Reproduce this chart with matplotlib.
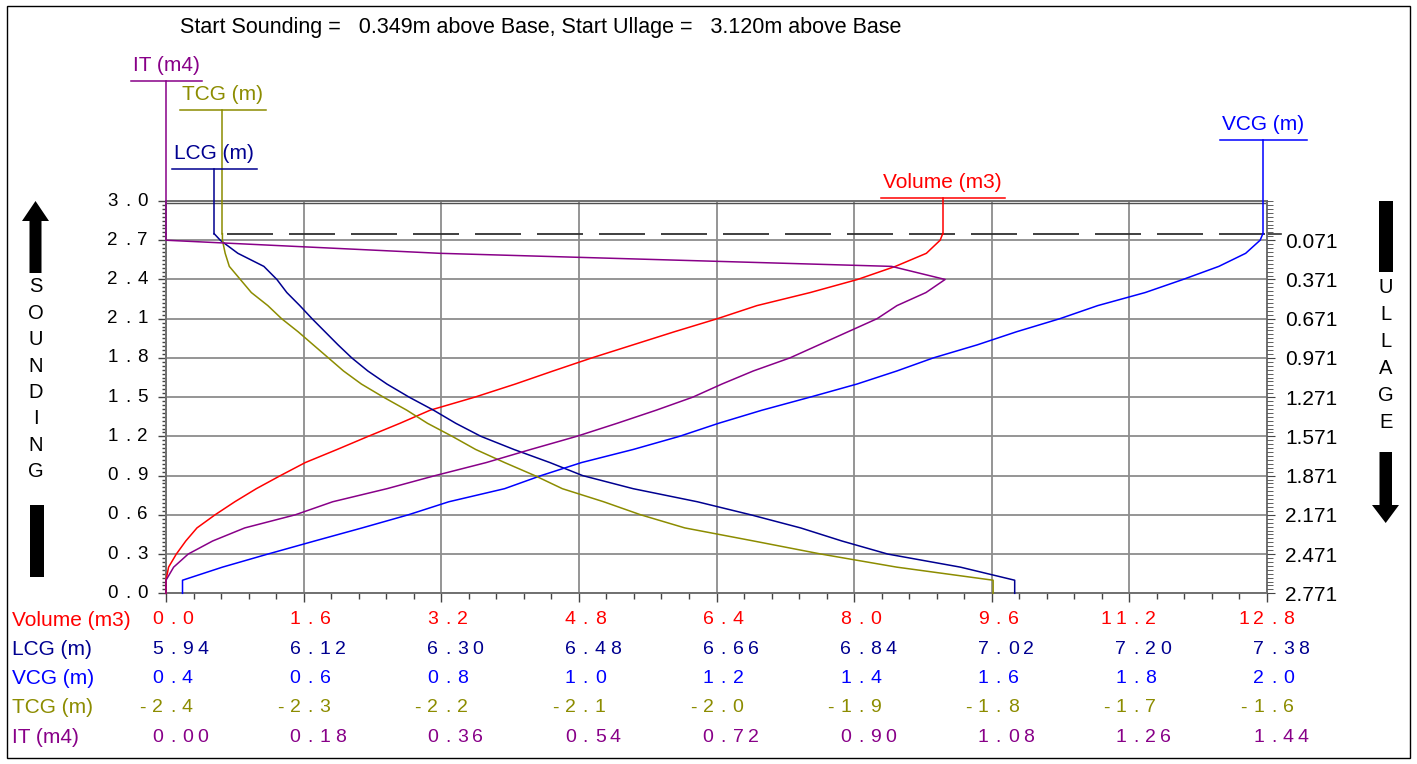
import matplotlib
matplotlib.use("Agg")
import matplotlib.pyplot as plt
import matplotlib.transforms as mtransforms
from matplotlib.patches import Rectangle, Polygon
from matplotlib.lines import Line2D
import numpy as np

# ---- tank calibration table -------------------------------------------------
sounding = [0.0, 0.1, 0.2, 0.3, 0.4, 0.5, 0.6, 0.7, 0.8, 0.9, 1.0, 1.1, 1.2, 1.3,
            1.4, 1.5, 1.6, 1.7, 1.8, 1.9, 2.0, 2.1, 2.2, 2.3, 2.4, 2.5, 2.6, 2.7, 2.75]
volume = [0.00, 0.00, 0.03, 0.12, 0.23, 0.36, 0.57, 0.80, 1.05, 1.33, 1.62, 1.99,
          2.35, 2.72, 3.07, 3.59, 4.06, 4.50, 4.95, 5.43, 5.91, 6.41, 6.87, 7.49,
          8.04, 8.48, 8.84, 9.00, 9.03]
lcg = [7.050, 7.050, 6.979, 6.884, 6.824, 6.770, 6.705, 6.635, 6.551, 6.485, 6.442,
       6.395, 6.352, 6.319, 6.290, 6.258, 6.229, 6.204, 6.183, 6.165, 6.148, 6.131,
       6.115, 6.098, 6.085, 6.068, 6.034, 6.011, 6.003]
vcg = [0.424, 0.424, 0.482, 0.548, 0.616, 0.685, 0.752, 0.811, 0.892, 0.945, 1.004,
       1.079, 1.146, 1.203, 1.266, 1.336, 1.404, 1.462, 1.515, 1.579, 1.636, 1.699,
       1.754, 1.823, 1.878, 1.930, 1.969, 1.990, 1.994]
tcg = [-1.799, -1.799, -1.869, -1.924, -1.973, -2.023, -2.055, -2.082, -2.112, -2.132,
       -2.154, -2.175, -2.192, -2.210, -2.225, -2.242, -2.258, -2.271, -2.282, -2.293,
       -2.304, -2.316, -2.326, -2.338, -2.346, -2.354, -2.357, -2.359, -2.359]
inertia = [0.000, 0.000, 0.010, 0.029, 0.061, 0.103, 0.169, 0.218, 0.289, 0.352, 0.419,
           0.477, 0.537, 0.590, 0.641, 0.689, 0.727, 0.768, 0.816, 0.854, 0.892, 0.930,
           0.956, 0.994, 1.019, 0.949, 0.358, 0.000, 0.000]

# bottom scales: (min, max) spread over 8 divisions, decimals shown
volume_scale = (0.0, 12.8, 1)
lcg_scale = (5.94, 7.38, 2)
vcg_scale = (0.4, 2.0, 1)
tcg_scale = (-2.4, -1.6, 1)
inertia_scale = (0.0, 1.44, 2)

series_names = ["Volume (m3)", "LCG (m)", "VCG (m)", "TCG (m)", "IT (m4)"]
series_colors = ["#ff0000", "#000090", "#0000ff", "#8c8c00", "#880088"]

start_sounding = 0.349
start_ullage = 3.120
fill_level = 2.75
sounding_max = 3.0
sounding_step = 0.3

# ---- layout (pixels) -------------------------------------------------------
W, H, DPI = 1417, 764, 100
X0, X1 = 166, 1267
Y_TOP, Y_BOT = 201.0, 593.3
PX_PER_M = (Y_BOT - Y_TOP) / sounding_max
CELL = 15.0
PT = 72.0 / DPI

plt.rcParams['font.family'] = ['Liberation Sans', 'DejaVu Sans']
plt.rcParams['lines.scale_dashes'] = False

fig = plt.figure(figsize=(W / DPI, H / DPI), dpi=DPI)
fig.patch.set_facecolor('white')


def fx(px):
    return px / W


def fy(py):
    return 1 - py / H


ax = fig.add_axes([fx(X0), fy(Y_BOT), (X1 - X0) / W, (Y_BOT - Y_TOP) / H])
ax.set_xlim(0, 1)
ax.set_ylim(0, sounding_max)

ytick_major = np.round(np.arange(0, sounding_max + 1e-9, sounding_step), 3)
ytick_minor = np.round(np.arange(0, sounding_max + 1e-9, sounding_step / 10), 3)
ax.set_yticks(ytick_major)
ax.set_yticks(ytick_minor, minor=True)
ax.set_xticks(np.linspace(0, 1, 9))
ax.set_xticks(np.linspace(0, 1, 41), minor=True)
ax.tick_params(axis='both', which='both', labelleft=False, labelbottom=False,
               direction='out', color='#444444', width=1.0)
ax.tick_params(axis='y', which='major', length=8 * PT)
ax.tick_params(axis='y', which='minor', length=4 * PT)
ax.tick_params(axis='x', which='major', length=9 * PT)
ax.tick_params(axis='x', which='minor', length=6 * PT)
ax.grid(True, which='major', color='#8c8c8c', lw=1.3)
for sp in ax.spines.values():
    sp.set_color('#707070')
    sp.set_linewidth(1.4)
ax.axhline(sounding_max - 0.015, color='#505050', lw=1.0)

# filling limit
ax.axhline(fill_level, xmin=0.055, xmax=1.0, color='#303030', lw=1.3,
           dashes=(46 * PT, 16 * PT))
ax.plot([1, 1 + 14 / (X1 - X0)], [fill_level, fill_level], color='#303030', lw=1.2,
        transform=mtransforms.blended_transform_factory(ax.transAxes, ax.transData),
        clip_on=False)

# left sounding labels, letter-spaced
ytrans = mtransforms.blended_transform_factory(fig.transFigure, ax.transData)
for s in ytick_major:
    lab = f"{s:.1f}"
    n = len(lab)
    for j, ch in enumerate(lab):
        cx = 150 - CELL * (n - 1 - j) - CELL / 2
        fig.text(fx(cx), s, ch, transform=ytrans, ha='center', va='center',
                 fontsize=13.5, color='black')

# right ullage axis
ullage_top = start_ullage - start_sounding
axr = ax.twinx()
axr.set_ylim(ullage_top, ullage_top - sounding_max)
ull_major = [ullage_top - s for s in ytick_major if s < sounding_max - 1e-9]
ull_minor = [ullage_top - s for s in ytick_minor]
axr.set_yticks(ull_major)
axr.set_yticklabels([f"{u:.3f}" for u in ull_major])
axr.set_yticks(ull_minor, minor=True)
axr.tick_params(axis='y', which='major', length=8 * PT, pad=10 * PT, labelsize=15,
                direction='out', color='#444444')
axr.tick_params(axis='y', which='minor', length=6 * PT, direction='out', color='#444444')
for sp in axr.spines.values():
    sp.set_visible(False)

# curves, each on its own horizontal scale
renderer = fig.canvas.get_renderer()
series = [(volume, volume_scale), (lcg, lcg_scale), (vcg, vcg_scale),
          (tcg, tcg_scale), (inertia, inertia_scale)]
ROW0, ROW_STEP = 620.0, 29.3
TIER0 = 198.3
inv = fig.transFigure.inverted()
for i, ((vals, (lo, hi, dec)), name, col) in enumerate(zip(series, series_names, series_colors)):
    tw = ax.twiny()
    tw.set_xlim(lo, hi)
    tw.set_ylim(0, sounding_max)
    tw.set_axis_off()
    tw.plot(vals, sounding, color=col, lw=1.1, clip_on=False)

    # leader line up to the series caption
    tier_px = TIER0 - ROW_STEP * i
    s_tier = (Y_BOT - tier_px) / PX_PER_M
    top = vals[-1]
    tw.plot([top, top], [sounding[-1], s_tier], color=col, lw=1.1, clip_on=False)
    tt = mtransforms.offset_copy(tw.transData, fig=fig, y=10 * PT, units='points')
    t = tw.text(top, s_tier, name, color=col, ha='center', va='baseline',
                fontsize=15, transform=tt, clip_on=False)
    bb = t.get_window_extent(renderer)
    ydisp = tw.transData.transform((top, s_tier))[1]
    (ux0, uy), (ux1, _) = inv.transform([(bb.x0 - 2, ydisp), (bb.x1 + 3, ydisp)])
    fig.add_artist(Line2D([ux0, ux1], [uy, uy], color=col, lw=1.1,
                          transform=fig.transFigure))

    # bottom scale row
    row_px = ROW0 + ROW_STEP * i
    fig.text(fx(12), fy(row_px), name, color=col, fontsize=15, ha='left', va='center')
    xtrans = mtransforms.blended_transform_factory(tw.transData, fig.transFigure)
    for k in range(9):
        v = lo + k * (hi - lo) / 8
        lab = f"{v:.{dec}f}"
        dot = lab.index('.')
        for j, ch in enumerate(lab):
            dx = (j - dot) * CELL + CELL / 2 - 1
            tr = mtransforms.offset_copy(xtrans, fig=fig, x=dx * PT, units='points')
            fig.text(v, fy(row_px), ch, transform=tr, ha='center', va='center',
                     fontsize=14, color=col)

# title
fig.text(fx(180), fy(27), "Start Sounding =   0.349m above Base, Start Ullage =   3.120m above Base",
         fontsize=15.5, ha='left', va='center', color='black')

# sounding / ullage markers
def poly(pts, **kw):
    fig.add_artist(Polygon([(fx(x), fy(y)) for x, y in pts], closed=True,
                           transform=fig.transFigure, **kw))

poly([(35.5, 201), (49, 221), (41.5, 221), (41.5, 273), (29.5, 273), (29.5, 221), (22, 221)],
     color='black', lw=0)
poly([(29.5, 505), (43.5, 505), (43.5, 577), (29.5, 577)], color='black', lw=0)
poly([(1379, 201), (1393, 201), (1393, 272), (1379, 272)], color='black', lw=0)
poly([(1379.5, 452), (1392, 452), (1392, 505), (1399, 505), (1385.7, 523), (1372, 505),
      (1379.5, 505)], color='black', lw=0)

for j, ch in enumerate("SOUNDING"):
    fig.text(fx(35.5), fy(287 + 26.4 * j), ch, fontsize=14.5, ha='center', va='center')
for j, ch in enumerate("ULLAGE"):
    fig.text(fx(1386), fy(288 + 26.8 * j), ch, fontsize=14.5, ha='center', va='center')

# frame
fig.add_artist(Rectangle((fx(7), fy(758)), (1410 - 7) / W, (758 - 6) / H, fill=False,
                         edgecolor='black', lw=1.0, transform=fig.transFigure))

fig.savefig("out.png", dpi=DPI)
